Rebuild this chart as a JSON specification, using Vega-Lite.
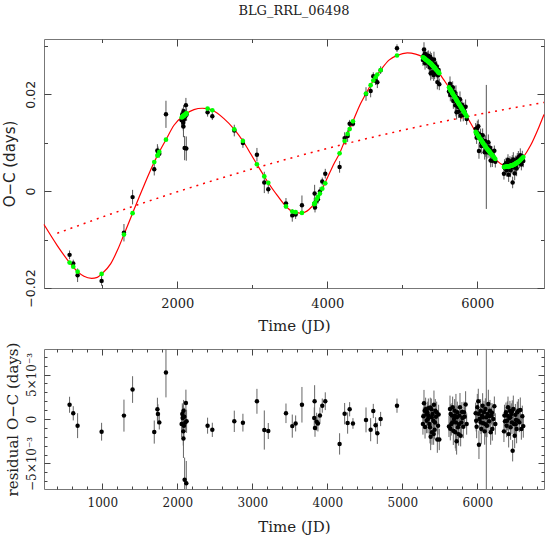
{
"$schema": "https://vega.github.io/schema/vega-lite/v6.json",
"background": "white",
"padding": {"left": 1, "top": 4, "right": 2, "bottom": 2},
"spacing": 7,
"config": {"view": {"stroke": "#777", "strokeWidth": 1}, "axis": {"domain": false, "grid": false, "tickColor": "#444", "tickWidth": 1, "labelColor": "#222", "titleColor": "#222", "titleFontWeight": "normal", "labelFlush": false}},
"datasets": {
"trend": [{"t":400,"y":-0.0087},{"t":1000,"y":-0.00534},{"t":1500,"y":-0.00267},{"t":2000,"y":-0.00013},{"t":2500,"y":0.00229},{"t":3000,"y":0.00459},{"t":3556,"y":0.007},{"t":4000,"y":0.00882},{"t":4500,"y":0.01075},{"t":5000,"y":0.01256},{"t":5500,"y":0.01424},{"t":6000,"y":0.0158},{"t":6500,"y":0.01724},{"t":6889,"y":0.0183}],
"curve": [{"t":223,"y":-0.0069},{"t":400,"y":-0.01124},{"t":564,"y":-0.01476},{"t":671,"y":-0.01662},{"t":756,"y":-0.01759},{"t":858,"y":-0.018},{"t":933,"y":-0.0178},{"t":991,"y":-0.0171},{"t":1111,"y":-0.01503},{"t":1200,"y":-0.01228},{"t":1289,"y":-0.00897},{"t":1404,"y":-0.00455},{"t":1556,"y":0.00117},{"t":1693,"y":0.006},{"t":1760,"y":0.0081},{"t":1849,"y":0.01062},{"t":1956,"y":0.01359},{"t":2089,"y":0.01566},{"t":2222,"y":0.01683},{"t":2333,"y":0.0171},{"t":2400,"y":0.01703},{"t":2467,"y":0.01669},{"t":2622,"y":0.01497},{"t":2760,"y":0.01276},{"t":2875,"y":0.01034},{"t":2978,"y":0.00772},{"t":3062,"y":0.00552},{"t":3160,"y":0.00303},{"t":3213,"y":0.00172},{"t":3333,"y":-0.0009},{"t":3449,"y":-0.00317},{"t":3533,"y":-0.00421},{"t":3578,"y":-0.00434},{"t":3650,"y":-0.00455},{"t":3756,"y":-0.0038},{"t":3831,"y":-0.00248},{"t":3911,"y":-0.0002},{"t":4000,"y":0.0027},{"t":4089,"y":0.00566},{"t":4164,"y":0.0078},{"t":4231,"y":0.01034},{"t":4342,"y":0.01441},{"t":4444,"y":0.01807},{"t":4516,"y":0.02014},{"t":4613,"y":0.02283},{"t":4711,"y":0.02497},{"t":4822,"y":0.02704},{"t":4929,"y":0.028},{"t":5067,"y":0.02855},{"t":5178,"y":0.02828},{"t":5267,"y":0.02773},{"t":5378,"y":0.02635},{"t":5489,"y":0.02441},{"t":5556,"y":0.0229},{"t":5631,"y":0.02117},{"t":5733,"y":0.01855},{"t":5858,"y":0.01545},{"t":5978,"y":0.01221},{"t":6111,"y":0.0091},{"t":6244,"y":0.00655},{"t":6311,"y":0.00566},{"t":6400,"y":0.0051},{"t":6489,"y":0.00545},{"t":6613,"y":0.00703},{"t":6711,"y":0.00945},{"t":6822,"y":0.01324},{"t":6889,"y":0.0158}],
"obs": [
{"t":564,"oc":-0.01316,"fit":-0.01476,"res":0.0016,"err":0.0009},
{"t":613,"oc":-0.01495,"fit":-0.01559,"res":0.00064,"err":0.0008},
{"t":671,"oc":-0.01737,"fit":-0.01662,"res":-0.00075,"err":0.0014},
{"t":991,"oc":-0.01853,"fit":-0.0171,"res":-0.00143,"err":0.001},
{"t":1289,"oc":-0.00859,"fit":-0.00897,"res":0.00038,"err":0.0018},
{"t":1404,"oc":-0.00124,"fit":-0.00455,"res":0.00331,"err":0.0015},
{"t":1693,"oc":0.00453,"fit":0.006,"res":-0.00147,"err":0.0013},
{"t":1735,"oc":0.00839,"fit":0.0073,"res":0.00109,"err":0.0013},
{"t":1742,"oc":0.00811,"fit":0.00755,"res":0.00056,"err":0.0011},
{"t":1760,"oc":0.00772,"fit":0.0081,"res":-0.00038,"err":0.0008},
{"t":1849,"oc":0.01585,"fit":0.01062,"res":0.00523,"err":0.0028},
{"t":2058,"oc":0.01464,"fit":0.0152,"res":-0.00056,"err":0.0015},
{"t":2067,"oc":0.01588,"fit":0.01532,"res":0.00056,"err":0.0012},
{"t":2071,"oc":0.01548,"fit":0.01537,"res":0.00011,"err":0.0014},
{"t":2080,"oc":0.0141,"fit":0.01549,"res":-0.00139,"err":0.0016},
{"t":2082,"oc":0.01333,"fit":0.01551,"res":-0.00218,"err":0.0022},
{"t":2084,"oc":0.01648,"fit":0.01554,"res":0.00094,"err":0.0012},
{"t":2089,"oc":0.01485,"fit":0.0156,"res":-0.00075,"err":0.0013},
{"t":2093,"oc":0.01591,"fit":0.01565,"res":0.00026,"err":0.001},
{"t":2098,"oc":0.00888,"fit":0.01572,"res":-0.00684,"err":0.0025},
{"t":2107,"oc":0.01546,"fit":0.01584,"res":-0.00038,"err":0.0011},
{"t":2115,"oc":0.01774,"fit":0.01594,"res":0.0018,"err":0.0015},
{"t":2120,"oc":0.00878,"fit":0.016,"res":-0.00722,"err":0.0025},
{"t":2124,"oc":0.0158,"fit":0.01606,"res":-0.00026,"err":0.0013},
{"t":2404,"oc":0.01628,"fit":0.01703,"res":-0.00075,"err":0.0009},
{"t":2467,"oc":0.01547,"fit":0.01669,"res":-0.00122,"err":0.0008},
{"t":2760,"oc":0.0125,"fit":0.01276,"res":-0.00026,"err":0.0012},
{"t":2875,"oc":0.00993,"fit":0.01034,"res":-0.00041,"err":0.001},
{"t":3062,"oc":0.00751,"fit":0.00552,"res":0.00199,"err":0.0014},
{"t":3160,"oc":0.00179,"fit":0.00303,"res":-0.00124,"err":0.0022},
{"t":3213,"oc":0.00037,"fit":0.00172,"res":-0.00135,"err":0.0009},
{"t":3449,"oc":-0.00253,"fit":-0.00317,"res":0.00064,"err":0.0011},
{"t":3533,"oc":-0.00501,"fit":-0.00421,"res":-0.0008,"err":0.0013},
{"t":3578,"oc":-0.00484,"fit":-0.00434,"res":-0.0005,"err":0.0009},
{"t":3662,"oc":-0.0029,"fit":-0.0045,"res":0.0016,"err":0.002},
{"t":3826,"oc":-0.0026,"fit":-0.0027,"res":0.0001,"err":0.0012},
{"t":3831,"oc":-0.0005,"fit":-0.0025,"res":0.002,"err":0.0018},
{"t":3836,"oc":-0.0034,"fit":-0.0024,"res":-0.001,"err":0.001},
{"t":3858,"oc":-0.002,"fit":-0.0017,"res":-0.0003,"err":0.001},
{"t":3875,"oc":-0.0017,"fit":-0.0012,"res":-0.0005,"err":0.0009},
{"t":3902,"oc":-0.0001,"fit":-0.0005,"res":0.0004,"err":0.0009},
{"t":3933,"oc":0.002,"fit":0.0005,"res":0.0015,"err":0.0008},
{"t":3973,"oc":0.0036,"fit":0.0016,"res":0.002,"err":0.001},
{"t":4164,"oc":0.005,"fit":0.0078,"res":-0.0028,"err":0.0012},
{"t":4231,"oc":0.01094,"fit":0.01034,"res":0.0006,"err":0.0012},
{"t":4271,"oc":0.01136,"fit":0.01181,"res":-0.00045,"err":0.0012},
{"t":4298,"oc":0.0139,"fit":0.0128,"res":0.0011,"err":0.0008},
{"t":4342,"oc":0.01391,"fit":0.01441,"res":-0.0005,"err":0.0006},
{"t":4516,"oc":0.02004,"fit":0.02014,"res":-0.0001,"err":0.0014},
{"t":4578,"oc":0.02066,"fit":0.02186,"res":-0.0012,"err":0.0013},
{"t":4613,"oc":0.02373,"fit":0.02283,"res":0.0009,"err":0.0008},
{"t":4644,"oc":0.0228,"fit":0.0235,"res":-0.0007,"err":0.0009},
{"t":4667,"oc":0.02247,"fit":0.02407,"res":-0.0016,"err":0.0012},
{"t":4711,"oc":0.02497,"fit":0.02497,"res":0,"err":0.0008},
{"t":4929,"oc":0.0295,"fit":0.028,"res":0.0015,"err":0.0008},
{"t":5275,"oc":0.02707,"fit":0.02763,"res":-0.00056,"err":0.0012},
{"t":5280,"oc":0.02785,"fit":0.02755,"res":0.0003,"err":0.001},
{"t":5289,"oc":0.02923,"fit":0.02746,"res":0.00177,"err":0.0015},
{"t":5298,"oc":0.02829,"fit":0.02735,"res":0.00094,"err":0.0011},
{"t":5303,"oc":0.02638,"fit":0.02728,"res":-0.0009,"err":0.0013},
{"t":5311,"oc":0.02828,"fit":0.02718,"res":0.0011,"err":0.0013},
{"t":5320,"oc":0.02757,"fit":0.02707,"res":0.0005,"err":0.0009},
{"t":5324,"oc":0.02682,"fit":0.02702,"res":-0.0002,"err":0.0014},
{"t":5333,"oc":0.02766,"fit":0.02691,"res":0.00075,"err":0.0012},
{"t":5342,"oc":0.0268,"fit":0.0268,"res":0,"err":0.0016},
{"t":5347,"oc":0.02794,"fit":0.02674,"res":0.0012,"err":0.0011},
{"t":5351,"oc":0.02708,"fit":0.02668,"res":0.0004,"err":0.001},
{"t":5360,"oc":0.02601,"fit":0.02657,"res":-0.00056,"err":0.0013},
{"t":5369,"oc":0.02552,"fit":0.02646,"res":-0.00094,"err":0.0018},
{"t":5373,"oc":0.02771,"fit":0.02641,"res":0.0013,"err":0.0011},
{"t":5378,"oc":0.02435,"fit":0.02635,"res":-0.002,"err":0.0015},
{"t":5387,"oc":0.02729,"fit":0.02619,"res":0.0011,"err":0.0012},
{"t":5392,"oc":0.02631,"fit":0.02611,"res":0.0002,"err":0.0012},
{"t":5396,"oc":0.02454,"fit":0.02604,"res":-0.0015,"err":0.0014},
{"t":5404,"oc":0.02646,"fit":0.0259,"res":0.00056,"err":0.001},
{"t":5413,"oc":0.02554,"fit":0.02574,"res":-0.0002,"err":0.0013},
{"t":5418,"oc":0.02395,"fit":0.02565,"res":-0.0017,"err":0.0012},
{"t":5422,"oc":0.02718,"fit":0.02558,"res":0.0016,"err":0.0016},
{"t":5431,"oc":0.02422,"fit":0.02542,"res":-0.0012,"err":0.0011},
{"t":5436,"oc":0.02494,"fit":0.02534,"res":-0.0004,"err":0.0014},
{"t":5440,"oc":0.02621,"fit":0.02527,"res":0.00094,"err":0.0013},
{"t":5449,"oc":0.02537,"fit":0.02511,"res":0.00026,"err":0.0009},
{"t":5458,"oc":0.0257,"fit":0.02495,"res":0.00075,"err":0.0012},
{"t":5467,"oc":0.0225,"fit":0.0248,"res":-0.0023,"err":0.0015},
{"t":5476,"oc":0.02389,"fit":0.02464,"res":-0.00075,"err":0.001},
{"t":5484,"oc":0.025,"fit":0.0245,"res":0.0005,"err":0.0011},
{"t":5493,"oc":0.02204,"fit":0.02434,"res":-0.0023,"err":0.0012},
{"t":5622,"oc":0.02057,"fit":0.0214,"res":-0.00083,"err":0.0012},
{"t":5636,"oc":0.02217,"fit":0.02104,"res":0.00113,"err":0.0015},
{"t":5640,"oc":0.01984,"fit":0.02094,"res":-0.0011,"err":0.0013},
{"t":5644,"oc":0.0214,"fit":0.02084,"res":0.00056,"err":0.0011},
{"t":5653,"oc":0.02004,"fit":0.0206,"res":-0.00056,"err":0.0013},
{"t":5662,"oc":0.02075,"fit":0.02037,"res":0.00038,"err":0.0014},
{"t":5667,"oc":0.01984,"fit":0.02024,"res":-0.0004,"err":0.0012},
{"t":5671,"oc":0.02146,"fit":0.02014,"res":0.00132,"err":0.0012},
{"t":5680,"oc":0.01859,"fit":0.01991,"res":-0.00132,"err":0.0016},
{"t":5689,"oc":0.01968,"fit":0.01968,"res":0,"err":0.001},
{"t":5698,"oc":0.02039,"fit":0.01945,"res":0.00094,"err":0.0013},
{"t":5702,"oc":0.01975,"fit":0.01935,"res":0.0004,"err":0.0011},
{"t":5707,"oc":0.01772,"fit":0.01922,"res":-0.0015,"err":0.0018},
{"t":5715,"oc":0.01863,"fit":0.01901,"res":-0.00038,"err":0.0032},
{"t":5724,"oc":0.01628,"fit":0.01878,"res":-0.0025,"err":0.0015},
{"t":5728,"oc":0.01888,"fit":0.01868,"res":0.0002,"err":0.0013},
{"t":5733,"oc":0.0193,"fit":0.01855,"res":0.00075,"err":0.0012},
{"t":5742,"oc":0.01739,"fit":0.01833,"res":-0.00094,"err":0.0014},
{"t":5751,"oc":0.0164,"fit":0.0181,"res":-0.0017,"err":0.0013},
{"t":5755,"oc":0.0174,"fit":0.018,"res":-0.0006,"err":0.0012},
{"t":5760,"oc":0.01826,"fit":0.01788,"res":0.00038,"err":0.0011},
{"t":5769,"oc":0.01898,"fit":0.01766,"res":0.00132,"err":0.0016},
{"t":5778,"oc":0.01555,"fit":0.01743,"res":-0.00188,"err":0.0012},
{"t":5787,"oc":0.01683,"fit":0.01721,"res":-0.00038,"err":0.0014},
{"t":5795,"oc":0.01781,"fit":0.01701,"res":0.0008,"err":0.0011},
{"t":5800,"oc":0.017,"fit":0.01689,"res":0.00011,"err":0.001},
{"t":5813,"oc":0.01571,"fit":0.01657,"res":-0.00086,"err":0.0013},
{"t":5822,"oc":0.01709,"fit":0.01634,"res":0.00075,"err":0.0012},
{"t":5831,"oc":0.01638,"fit":0.01612,"res":0.00026,"err":0.0011},
{"t":5844,"oc":0.01742,"fit":0.0158,"res":0.00162,"err":0.0015},
{"t":5858,"oc":0.01489,"fit":0.01545,"res":-0.00056,"err":0.0012},
{"t":5978,"oc":0.01285,"fit":0.01221,"res":0.00064,"err":0.0012},
{"t":5985,"oc":0.01185,"fit":0.01205,"res":-0.0002,"err":0.0012},
{"t":5991,"oc":0.01104,"fit":0.0119,"res":-0.00086,"err":0.0013},
{"t":6000,"oc":0.01302,"fit":0.0117,"res":0.00132,"err":0.0015},
{"t":6013,"oc":0.01339,"fit":0.01139,"res":0.002,"err":0.0014},
{"t":6017,"oc":0.01188,"fit":0.01128,"res":0.0006,"err":0.0011},
{"t":6022,"oc":0.00828,"fit":0.01118,"res":-0.0029,"err":0.0016},
{"t":6031,"oc":0.01097,"fit":0.01097,"res":0,"err":0.0011},
{"t":6044,"oc":0.01161,"fit":0.01067,"res":0.00094,"err":0.0013},
{"t":6049,"oc":0.01015,"fit":0.01055,"res":-0.0004,"err":0.0013},
{"t":6053,"oc":0.00933,"fit":0.01046,"res":-0.00113,"err":0.0017},
{"t":6062,"oc":0.01063,"fit":0.01025,"res":0.00038,"err":0.0012},
{"t":6071,"oc":0.01154,"fit":0.01004,"res":0.0015,"err":0.0014},
{"t":6075,"oc":0.01015,"fit":0.00995,"res":0.0002,"err":0.0012},
{"t":6080,"oc":0.00934,"fit":0.00983,"res":-0.00049,"err":0.0011},
{"t":6089,"oc":0.01037,"fit":0.00962,"res":0.00075,"err":0.0013},
{"t":6098,"oc":0.00801,"fit":0.0094,"res":-0.00139,"err":0.0015},
{"t":6107,"oc":0.01032,"fit":0.00919,"res":0.00113,"err":0.0012},
{"t":6112,"oc":0.00848,"fit":0.00908,"res":-0.0006,"err":0.0014},
{"t":6120,"oc":0.00912,"fit":0.00893,"res":0.00019,"err":0.0128},
{"t":6129,"oc":0.008,"fit":0.00875,"res":-0.00075,"err":0.0013},
{"t":6138,"oc":0.00914,"fit":0.00858,"res":0.00056,"err":0.0012},
{"t":6147,"oc":0.0101,"fit":0.00841,"res":0.00169,"err":0.0016},
{"t":6156,"oc":0.00798,"fit":0.00824,"res":-0.00026,"err":0.0011},
{"t":6160,"oc":0.00847,"fit":0.00817,"res":0.0003,"err":0.0012},
{"t":6169,"oc":0.00893,"fit":0.00799,"res":0.00094,"err":0.0012},
{"t":6178,"oc":0.00632,"fit":0.00782,"res":-0.0015,"err":0.0014},
{"t":6187,"oc":0.00802,"fit":0.00764,"res":0.00038,"err":0.001},
{"t":6195,"oc":0.00819,"fit":0.00749,"res":0.0007,"err":0.0011},
{"t":6200,"oc":0.00627,"fit":0.0074,"res":-0.00113,"err":0.0013},
{"t":6213,"oc":0.00715,"fit":0.00715,"res":0,"err":0.0012},
{"t":6227,"oc":0.00831,"fit":0.00688,"res":0.00143,"err":0.0011},
{"t":6240,"oc":0.00607,"fit":0.00663,"res":-0.00056,"err":0.0012},
{"t":6355,"oc":0.00358,"fit":0.00497,"res":-0.00139,"err":0.0012},
{"t":6362,"oc":0.00538,"fit":0.00498,"res":0.0004,"err":0.0012},
{"t":6369,"oc":0.00474,"fit":0.005,"res":-0.00026,"err":0.0014},
{"t":6382,"oc":0.00578,"fit":0.00503,"res":0.00075,"err":0.0011},
{"t":6391,"oc":0.0043,"fit":0.00505,"res":-0.00075,"err":0.0013},
{"t":6396,"oc":0.00486,"fit":0.00506,"res":-0.0002,"err":0.0011},
{"t":6400,"oc":0.00545,"fit":0.00507,"res":0.00038,"err":0.0016},
{"t":6409,"oc":0.00641,"fit":0.00509,"res":0.00132,"err":0.0012},
{"t":6418,"oc":0.0034,"fit":0.0051,"res":-0.0017,"err":0.0015},
{"t":6427,"oc":0.00524,"fit":0.00513,"res":0.00011,"err":0.0013},
{"t":6435,"oc":0.00611,"fit":0.00517,"res":0.00094,"err":0.0011},
{"t":6440,"oc":0.0054,"fit":0.0052,"res":0.0002,"err":0.0013},
{"t":6444,"oc":0.00428,"fit":0.00522,"res":-0.00094,"err":0.0014},
{"t":6453,"oc":0.00582,"fit":0.00526,"res":0.00056,"err":0.0012},
{"t":6462,"oc":0.00493,"fit":0.00531,"res":-0.00038,"err":0.0013},
{"t":6466,"oc":0.00623,"fit":0.00533,"res":0.0009,"err":0.0012},
{"t":6471,"oc":0.00179,"fit":0.00536,"res":-0.00357,"err":0.0012},
{"t":6480,"oc":0.00653,"fit":0.0054,"res":0.00113,"err":0.0015},
{"t":6489,"oc":0.00489,"fit":0.00545,"res":-0.00056,"err":0.0011},
{"t":6498,"oc":0.00366,"fit":0.00554,"res":-0.00188,"err":0.0014},
{"t":6507,"oc":0.00612,"fit":0.00563,"res":0.00049,"err":0.0012},
{"t":6511,"oc":0.00507,"fit":0.00567,"res":-0.0006,"err":0.0012},
{"t":6515,"oc":0.00561,"fit":0.00572,"res":-0.00011,"err":0.0013},
{"t":6524,"oc":0.00468,"fit":0.00581,"res":-0.00113,"err":0.0016},
{"t":6533,"oc":0.00665,"fit":0.0059,"res":0.00075,"err":0.0012},
{"t":6540,"oc":0.00577,"fit":0.00597,"res":-0.0002,"err":0.0011},
{"t":6547,"oc":0.00698,"fit":0.00604,"res":0.00094,"err":0.0013},
{"t":6560,"oc":0.00582,"fit":0.0062,"res":-0.00038,"err":0.0011},
{"t":6573,"oc":0.00743,"fit":0.00641,"res":0.00102,"err":0.0014},
{"t":6587,"oc":0.00549,"fit":0.00662,"res":-0.00113,"err":0.0012},
{"t":6600,"oc":0.00713,"fit":0.00683,"res":0.0003,"err":0.0012},
{"t":6613,"oc":0.00623,"fit":0.00703,"res":-0.0008,"err":0.0013}
]
},
"vconcat": [
{
"width": 500, "height": 249,
"title": {"text": "BLG_RRL_06498", "font": "DejaVu Serif", "fontSize": 13, "fontWeight": "normal", "color": "#222", "offset": 21},
"layer": [
{"data": {"name": "trend"}, "mark": {"type": "line", "color": "#ff0000", "strokeDash": [2, 5], "strokeWidth": 1.5},
 "encoding": {
 "x": {"field": "t", "type": "quantitative", "scale": {"domain": [223, 6889], "nice": false, "zero": false},
   "axis": {"orient": "bottom", "values": [1000, 2000, 3000, 4000, 5000, 6000], "format": "d", "labelExpr": "datum.value % 2000 === 0 ? datum.label : ''", "tickSize": {"condition": {"test": "datum.value % 2000 === 0", "value": -7}, "value": -3.5}, "labelPadding": 16, "labelFont": "DejaVu Serif", "labelFontSize": 13, "title": "Time (JD)", "titleFont": "DejaVu Serif", "titleFontSize": 15, "titlePadding": 8}},
 "y": {"field": "y", "type": "quantitative", "scale": {"domain": [-0.02, 0.0314], "nice": false, "zero": false},
   "axis": {"orient": "left", "values": [-0.02, -0.01, 0, 0.01, 0.02, 0.03], "labelExpr": "abs(datum.value) < 1e-9 ? '0' : (abs(datum.value - 0.02) < 1e-9 ? '0.02' : (abs(datum.value + 0.02) < 1e-9 ? '−0.02' : ''))", "tickSize": {"condition": {"test": "abs(datum.value) < 1e-9 || abs(abs(datum.value) - 0.02) < 1e-9", "value": -7}, "value": -3.5}, "labelPadding": 14, "labelAngle": -90, "labelAlign": "center", "labelBaseline": "bottom", "labelFont": "DejaVu Sans", "labelFontSize": 12.5, "title": "O−C (days)", "titleFont": "DejaVu Sans", "titleFontSize": 15, "titlePadding": 7}}
 }},
{"data": {"name": "curve"}, "mark": {"type": "line", "color": "#ff0000", "strokeWidth": 1.2, "interpolate": "monotone"},
 "encoding": {
 "x": {"field": "t", "type": "quantitative", "scale": {"domain": [223, 6889], "nice": false, "zero": false},
   "axis": {"orient": "top", "values": [1000, 2000, 3000, 4000, 5000, 6000], "labels": false, "title": null, "tickSize": {"condition": {"test": "datum.value % 2000 === 0", "value": -7}, "value": -3.5}}},
 "y": {"field": "y", "type": "quantitative", "scale": {"domain": [-0.02, 0.0314], "nice": false, "zero": false},
   "axis": {"orient": "right", "values": [-0.02, -0.01, 0, 0.01, 0.02, 0.03], "labels": false, "title": null, "tickSize": {"condition": {"test": "abs(datum.value) < 1e-9 || abs(abs(datum.value) - 0.02) < 1e-9", "value": -7}, "value": -3.5}}}
 }},
{"data": {"name": "obs"}, "mark": {"type": "errorbar", "color": "#555", "thickness": 1},
 "encoding": {
 "x": {"field": "t", "type": "quantitative", "scale": {"domain": [223, 6889], "nice": false, "zero": false}, "axis": null},
 "y": {"field": "oc", "type": "quantitative", "scale": {"domain": [-0.02, 0.0314], "nice": false, "zero": false}, "axis": null},
 "yError": {"field": "err"}
 }},
{"data": {"name": "obs"}, "mark": {"type": "circle", "color": "#000", "size": 20, "opacity": 1},
 "encoding": {
 "x": {"field": "t", "type": "quantitative", "scale": {"domain": [223, 6889], "nice": false, "zero": false}, "axis": null},
 "y": {"field": "oc", "type": "quantitative", "scale": {"domain": [-0.02, 0.0314], "nice": false, "zero": false}, "axis": null}
 }},
{"data": {"name": "obs"}, "mark": {"type": "circle", "color": "#00ff00", "size": 22, "opacity": 1},
 "encoding": {
 "x": {"field": "t", "type": "quantitative", "scale": {"domain": [223, 6889], "nice": false, "zero": false}, "axis": null},
 "y": {"field": "fit", "type": "quantitative", "scale": {"domain": [-0.02, 0.0314], "nice": false, "zero": false}, "axis": null}
 }}
],
"resolve": {"axis": {"x": "independent", "y": "independent"}}
},
{
"width": 500, "height": 140,
"layer": [
{"data": {"name": "obs"}, "mark": {"type": "errorbar", "color": "#666", "thickness": 1},
 "encoding": {
 "x": {"field": "t", "type": "quantitative", "scale": {"domain": [223, 6889], "nice": false, "zero": false},
   "axis": {"orient": "bottom", "values": [400, 600, 800, 1000, 1200, 1400, 1600, 1800, 2000, 2200, 2400, 2600, 2800, 3000, 3200, 3400, 3600, 3800, 4000, 4200, 4400, 4600, 4800, 5000, 5200, 5400, 5600, 5800, 6000, 6200, 6400, 6600, 6800], "format": "d", "labelExpr": "datum.value % 1000 === 0 ? datum.label : ''", "tickSize": {"condition": {"test": "datum.value % 1000 === 0", "value": -6}, "value": -3}, "labelPadding": 14, "labelFont": "DejaVu Serif", "labelFontSize": 12, "title": "Time (JD)", "titleFont": "DejaVu Serif", "titleFontSize": 15, "titlePadding": 11}},
 "y": {"field": "res", "type": "quantitative", "scale": {"domain": [-0.00787, 0.00787], "nice": false, "zero": false, "clamp": true},
   "axis": {"orient": "left", "values": [-0.007, -0.006, -0.005, -0.004, -0.003, -0.002, -0.001, 0, 0.001, 0.002, 0.003, 0.004, 0.005, 0.006, 0.007], "labelExpr": "abs(datum.value) < 1e-9 ? '0' : (abs(datum.value - 0.005) < 1e-9 ? '5×10⁻³' : (abs(datum.value + 0.005) < 1e-9 ? '−5×10⁻³' : ''))", "tickSize": {"condition": {"test": "abs(datum.value) < 1e-9 || abs(abs(datum.value) - 0.005) < 1e-9", "value": -6}, "value": -3}, "labelPadding": 12, "labelAngle": -90, "labelAlign": "center", "labelBaseline": "bottom", "labelFont": "DejaVu Serif", "labelFontSize": 12, "title": "residual O−C (days)", "titleFont": "DejaVu Serif", "titleFontSize": 15, "titlePadding": 5}},
 "yError": {"field": "err"}
 }},
{"data": {"name": "obs"}, "mark": {"type": "circle", "color": "#000", "size": 20, "opacity": 1},
 "encoding": {
 "x": {"field": "t", "type": "quantitative", "scale": {"domain": [223, 6889], "nice": false, "zero": false},
   "axis": {"orient": "top", "values": [400, 600, 800, 1000, 1200, 1400, 1600, 1800, 2000, 2200, 2400, 2600, 2800, 3000, 3200, 3400, 3600, 3800, 4000, 4200, 4400, 4600, 4800, 5000, 5200, 5400, 5600, 5800, 6000, 6200, 6400, 6600, 6800], "labels": false, "title": null, "tickSize": {"condition": {"test": "datum.value % 1000 === 0", "value": -6}, "value": -3}}},
 "y": {"field": "res", "type": "quantitative", "scale": {"domain": [-0.00787, 0.00787], "nice": false, "zero": false, "clamp": true},
   "axis": {"orient": "right", "values": [-0.007, -0.006, -0.005, -0.004, -0.003, -0.002, -0.001, 0, 0.001, 0.002, 0.003, 0.004, 0.005, 0.006, 0.007], "labels": false, "title": null, "tickSize": {"condition": {"test": "abs(datum.value) < 1e-9 || abs(abs(datum.value) - 0.005) < 1e-9", "value": -6}, "value": -3}}}
 }}
],
"resolve": {"axis": {"x": "independent", "y": "independent"}}
}
]
}
